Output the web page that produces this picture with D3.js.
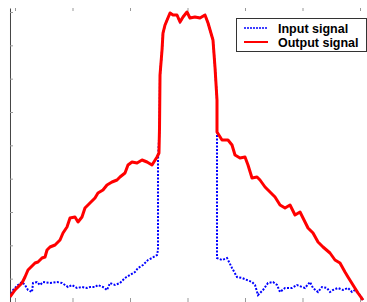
<!DOCTYPE html>
<html>
<head>
<meta charset="utf-8">
<script src="https://cdn.jsdelivr.net/npm/d3@7"></script>
<style>
  body { margin: 0; background: #fff; }
  svg { display: block; }
  .legendText { font-family: "Liberation Sans", Arial, sans-serif; font-size: 12.5px; font-weight: bold; fill: #000; }
</style>
</head>
<body>
<div id="chart"></div>
<script>
var svgWidth = 367;
var svgHeight = 302;

// tick values
var xTicks = [0, 1, 2, 3, 4, 5, 6];
var yTicks = [10, 20, 30, 40, 50, 60, 70, 80, 90];

// output signal (red)
var outX = [-0.087, 0, 0.052, 0.122, 0.174, 0.226, 0.296, 0.348, 0.400, 0.470, 0.522, 0.557, 0.609, 0.696, 0.783,
  0.835, 0.904, 0.957, 1.043, 1.096, 1.165, 1.217, 1.304, 1.391, 1.443, 1.530, 1.600, 1.687, 1.774, 1.826, 1.913,
  1.965, 2.035, 2.122, 2.209, 2.296, 2.383, 2.470, 2.504, 2.513,
  2.522, 2.557, 2.574, 2.609, 2.696, 2.748, 2.817, 2.870, 2.922, 2.991, 3.043, 3.130, 3.217, 3.304, 3.357, 3.443,
  3.478, 3.513,
  3.513, 3.600, 3.704, 3.774, 3.826, 3.913, 4.000, 4.052, 4.122, 4.209, 4.261, 4.348, 4.435, 4.522, 4.609, 4.696,
  4.783, 4.870, 4.957, 5.009, 5.096, 5.183, 5.270, 5.357, 5.478, 5.565, 5.652, 5.739, 5.791, 5.878, 5.965, 6.052];
var outY = [4.5, 6.6, 7.5, 8.7, 10.5, 12.6, 13.8, 14.7, 15.0, 16.2, 16.5, 18.6, 19.5, 20.1, 21.6,
  23.7, 25.5, 28.2, 28.5, 27.0, 28.5, 31.2, 32.7, 34.2, 35.7, 36.6, 38.1, 39.0, 39.6, 40.5, 41.7,
  44.1, 45.0, 44.7, 45.6, 45.0, 44.1, 46.5, 47.7, 55.0,
  71.1, 78.6, 83.7, 86.1, 89.7, 89.1, 89.1, 87.0, 88.5, 90.0, 88.2, 88.5, 88.2, 89.1, 86.7, 81.6,
  73.5, 63.6,
  54.0, 51.6, 51.6, 50.1, 47.1, 46.2, 46.5, 44.1, 40.2, 40.5, 39.6, 37.5, 36.0, 34.5, 32.1, 31.2,
  32.1, 29.1, 30.0, 28.2, 25.2, 23.7, 21.0, 19.5, 17.7, 15.6, 14.7, 12.0, 10.5, 8.1, 5.7, 3.6];

// input signal (blue)
var inX = [-0.087, -0.035, 0.052, 0.122, 0.174, 0.226, 0.296, 0.313, 0.383, 0.435, 0.487, 0.609, 0.730, 0.817, 0.870,
  0.922, 0.991, 1.078, 1.165, 1.252, 1.304, 1.391, 1.443, 1.530, 1.600, 1.652, 1.739, 1.826, 1.913, 2.000, 2.087,
  2.139, 2.226, 2.313, 2.383, 2.470, 2.487, 2.487, 2.513,
  2.522, 2.557, 2.574, 2.609, 2.696, 2.748, 2.817, 2.870, 2.922, 2.991, 3.043, 3.130, 3.217, 3.304, 3.357, 3.443,
  3.478, 3.513,
  3.513, 3.600, 3.687, 3.774, 3.861, 3.948, 4.035, 4.122, 4.174, 4.226, 4.313, 4.400, 4.487, 4.557, 4.609, 4.696,
  4.817, 4.904, 4.991, 5.043, 5.130, 5.183, 5.270, 5.339, 5.426, 5.478, 5.530, 5.617, 5.704, 5.791, 5.861, 5.913,
  6.000, 6.052];
var inY = [4.5, 6.6, 8.1, 9.0, 8.1, 6.6, 6.0, 8.7, 9.0, 8.1, 9.0, 8.7, 9.0, 8.7, 8.1,
  7.5, 8.1, 7.2, 7.5, 7.2, 7.5, 7.5, 8.1, 7.5, 6.6, 8.7, 8.1, 8.7, 10.2, 11.1, 12.0,
  13.2, 14.1, 15.6, 16.2, 17.1, 18.6, 45.6, 55.0,
  71.1, 78.6, 83.7, 86.1, 89.7, 89.1, 89.1, 87.0, 88.5, 90.0, 88.2, 88.5, 88.2, 89.1, 86.7, 81.6,
  73.5, 63.6,
  16.2, 15.6, 16.2, 13.2, 10.5, 10.2, 9.6, 9.0, 8.1, 5.1, 6.6, 8.7, 9.0, 8.1, 6.0, 7.2,
  7.2, 8.1, 7.5, 7.2, 9.0, 7.2, 6.0, 7.5, 7.2, 6.0, 6.6, 7.2, 6.6, 7.2, 6.0, 6.6,
  5.1, 3.6];

var seriesNames = ["Input signal", "Output signal"];

var xScale = d3.scaleLinear().domain([0, 6]).range([15, 360]);
var yScale = d3.scaleLinear().domain([0, 91.2]).range([312, 8]);

var svg = d3.select("#chart").append("svg")
  .attr("width", svgWidth)
  .attr("height", svgHeight);

svg.append("defs").append("clipPath").attr("id", "plotClip")
  .append("rect")
  .attr("x", xScale(-0.087))
  .attr("y", yScale(91.2))
  .attr("width", svgWidth)
  .attr("height", svgHeight);

// top ticks
svg.append("g")
  .attr("transform", `translate(0, ${yScale(91.2)})`)
  .call(d3.axisTop(xScale).tickValues(xTicks).tickSize(-3).tickFormat(""))
  .call(g => g.select(".domain").remove())
  .call(g => g.selectAll(".tick line").attr("stroke", "#999"));

// bottom ticks
svg.append("g")
  .attr("transform", `translate(0, ${svgHeight})`)
  .call(d3.axisBottom(xScale).tickValues(xTicks).tickSize(-4).tickFormat(""))
  .call(g => g.select(".domain").remove())
  .call(g => g.selectAll(".tick line").attr("stroke", "#999"));

// left axis
svg.append("g")
  .attr("transform", `translate(${xScale(-0.087)}, 0)`)
  .call(d3.axisLeft(yScale).tickValues(yTicks).tickSize(-3).tickSizeOuter(0).tickFormat(""))
  .call(g => g.select(".domain").attr("stroke", "#444"))
  .call(g => g.selectAll(".tick line").attr("stroke", "#999"));

var line = d3.line()
  .x(d => xScale(d[0]))
  .y(d => yScale(d[1]));

var inData = inX.map((x, i) => [x, inY[i]]);
var outData = outX.map((x, i) => [x, outY[i]]);

var plot = svg.append("g").attr("clip-path", "url(#plotClip)");

plot.append("path")
  .datum(inData)
  .attr("fill", "none")
  .attr("stroke", "#0000ff")
  .attr("stroke-width", 2)
  .attr("stroke-dasharray", "2,1.5")
  .attr("d", line);

plot.append("path")
  .datum(outData)
  .attr("fill", "none")
  .attr("stroke", "#ff0000")
  .attr("stroke-width", 3)
  .attr("stroke-linejoin", "round")
  .attr("d", line);

// legend
var legend = svg.append("g").attr("transform", "translate(236, 18)");

legend.append("rect")
  .attr("x", 0.5)
  .attr("y", 0.5)
  .attr("width", 130)
  .attr("height", 33)
  .attr("fill", "#fff")
  .attr("stroke", "#333")
  .attr("stroke-width", 1);

var legendStyles = [
  { color: "#0000ff", dash: "2,1", width: 1.5 },
  { color: "#ff0000", dash: null, width: 2 }
];

seriesNames.forEach(function(name, i) {
  var yy = 10 + i * 14;
  legend.append("line")
    .attr("x1", 8).attr("x2", 32)
    .attr("y1", yy).attr("y2", yy)
    .attr("stroke", legendStyles[i].color)
    .attr("stroke-width", legendStyles[i].width)
    .attr("stroke-dasharray", legendStyles[i].dash);
  legend.append("text")
    .attr("class", "legendText")
    .attr("x", 42)
    .attr("y", yy + 4.5)
    .text(name);
});
</script>
</body>
</html>
